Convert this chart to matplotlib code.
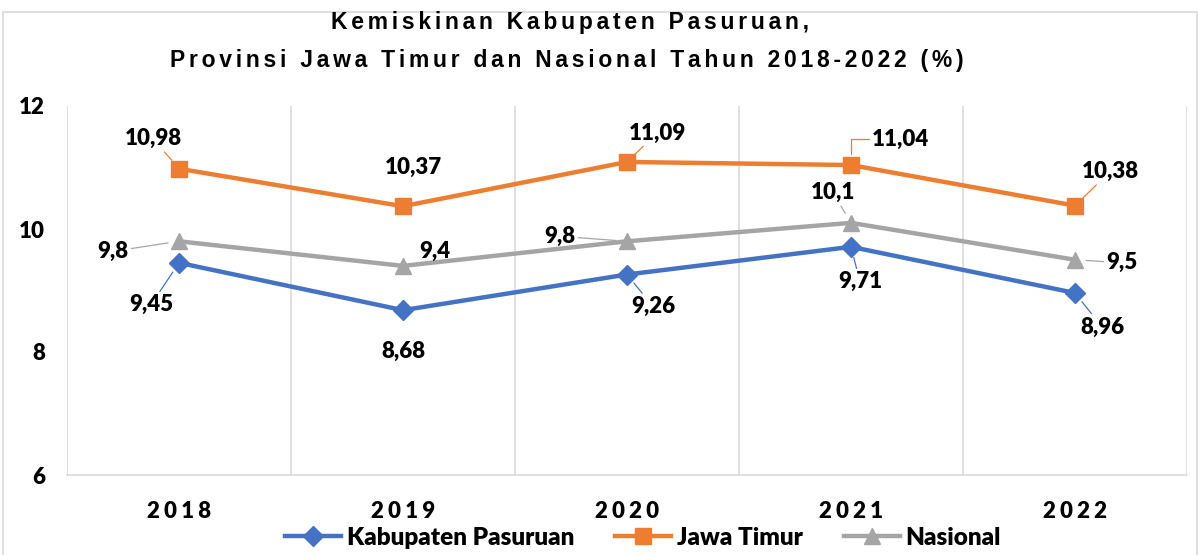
import matplotlib.pyplot as plt
from matplotlib.patches import Rectangle
from matplotlib.ticker import FixedLocator

plt.rcParams['font.family'] = ['Lato', 'DejaVu Sans']
plt.rcParams['font.weight'] = 'heavy'

years = ["2018", "2019", "2020", "2021", "2022"]
kab_pasuruan = [9.45, 8.68, 9.26, 9.71, 8.96]
jawa_timur = [10.98, 10.37, 11.09, 11.04, 10.38]
nasional = [9.8, 9.4, 9.8, 10.1, 9.5]

# label offsets in pixels (x, y) from each point
off_kab = [(-28, -42), (0, -41), (26, -32), (9, -35), (27, -34)]
off_jatim = [(-26, 30), (10, 39), (30, 29), (49, 26), (35, 34)]
off_nas = [(-66, -10), (32, 14), (-67, 5), (-18, 30), (47, -3)]
leader_kab = [True, False, True, True, True]
leader_jatim = [True, False, True, "elbow", True]
leader_nas = [True, False, True, True, True]


def spaced(s, sep="\u2009"):
    return sep.join(s)


def fmt(v):
    return f"{v:g}".replace(".", ",")


fig = plt.figure(figsize=(11.98, 5.55), dpi=100)
ax = fig.add_axes([67 / 1198, 1 - 475 / 555, 1120 / 1198, 369 / 555])

x = list(range(len(years)))
series = [
    ("Kabupaten Pasuruan", kab_pasuruan, "#4472C4", "D", 10, off_kab, leader_kab),
    ("Jawa Timur", jawa_timur, "#ED7D31", "s", 12, off_jatim, leader_jatim),
    ("Nasional", nasional, "#A5A5A5", "^", 12, off_nas, leader_nas),
]

for name, vals, col, mk, ms, offs, leads in series:
    ax.plot(x, vals, color=col, lw=3.2, marker=mk, ms=ms, label=name, zorder=3)
    for i, v in enumerate(vals):
        kw = {}
        if leads[i] == "elbow":
            kw["arrowprops"] = dict(arrowstyle="-", color=col, lw=0.9, shrinkA=0, shrinkB=8,
                                    relpos=(0, 0.5),
                                    connectionstyle="angle,angleA=0,angleB=90,rad=0")
        elif leads[i]:
            kw["arrowprops"] = dict(arrowstyle="-", color=col, lw=0.9, shrinkA=0, shrinkB=8)
        ax.annotate(fmt(v), xy=(i, v), xytext=offs[i], textcoords="offset pixels",
                    ha="center", va="center", fontsize=16, fontweight="heavy",
                    color="black", zorder=4, **kw)

ax.set_xlim(-0.5, 4.5)
ax.set_ylim(6, 12)
ax.set_yticks([6, 8, 10, 12])
ax.set_xticks(x)
ax.set_xticklabels([spaced(y, "\u2009\u200a") for y in years])
ax.xaxis.set_minor_locator(FixedLocator([-0.5, 0.5, 1.5, 2.5, 3.5, 4.5]))
ax.grid(True, which="minor", axis="x", color="#D9D9D9", lw=1.2)
ax.tick_params(axis="both", which="both", length=0)
ax.tick_params(axis="x", pad=19, labelsize=16)
ax.tick_params(axis="y", pad=16, labelsize=16)
for lab in ax.get_xticklabels() + ax.get_yticklabels():
    lab.set_fontweight("heavy")
for side in ["top", "left", "right"]:
    ax.spines[side].set_visible(False)
ax.spines["bottom"].set_color("#D9D9D9")
ax.spines["bottom"].set_linewidth(1.2)

title_font = ["Liberation Sans", "DejaVu Sans"]
fig.text(570 / 1198, 1 - 23 / 555, spaced("Kemiskinan Kabupaten Pasuruan,", "\u2006"),
         ha="center", va="center", fontsize=16.5, fontweight="bold", family=title_font)
fig.text(567 / 1198, 1 - 60 / 555,
         spaced("Provinsi Jawa Timur dan Nasional Tahun 2018-2022 (%)", "\u2006"),
         ha="center", va="center", fontsize=16.5, fontweight="bold", family=title_font)

fig.legend(loc="center", bbox_to_anchor=(643 / 1198, 1 - 538 / 555), ncol=3,
           frameon=False, handlelength=2.3, columnspacing=1.7,
           handletextpad=0.22, borderpad=0, prop={"weight": "heavy", "size": 17.5})

fig.patches.append(Rectangle((3 / 1198, -0.01), 1194 / 1198, 1 - 12 / 555 + 0.01,
                             transform=fig.transFigure, fill=False,
                             edgecolor="#D9D9D9", lw=1.2))

fig.savefig("out.png", dpi=100)
